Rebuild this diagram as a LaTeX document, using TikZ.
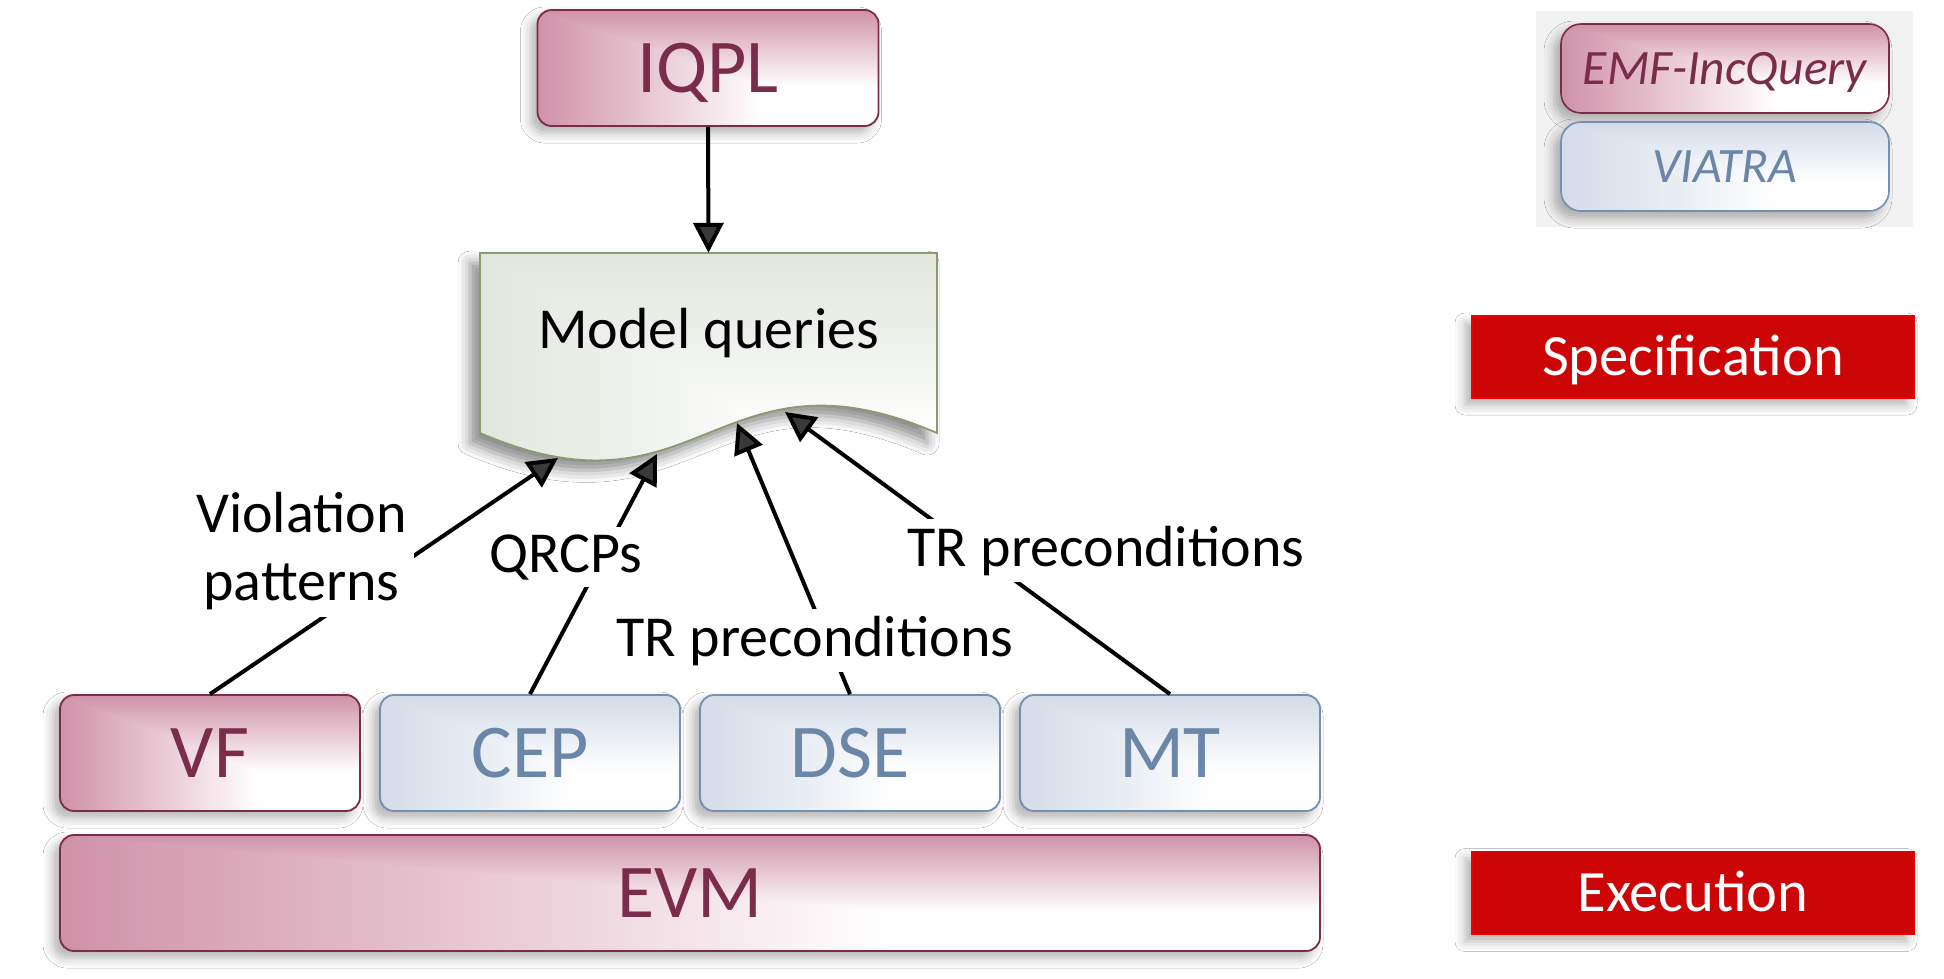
\documentclass[tikz,border=0pt]{standalone}
\usepackage{fontspec}
\setmainfont{Carlito}
\usetikzlibrary{arrows.meta,shadows.blur}
\definecolor{pinkD}{HTML}{CF92A8}
\definecolor{pinkM}{HTML}{E6C3CF}
\definecolor{maroon}{HTML}{7A2C4A}
\definecolor{blueD}{HTML}{D3DCE8}
\definecolor{blueM}{HTML}{E6EBF2}
\definecolor{blueB}{HTML}{7390B0}
\definecolor{blueT}{HTML}{6A86A8}
\definecolor{docD}{HTML}{E2E7DE}
\definecolor{docM}{HTML}{EDF0EA}
\definecolor{docB}{HTML}{8A9B70}
\definecolor{redF}{HTML}{CC0606}
\definecolor{redB}{HTML}{EE0000}
\definecolor{legendbg}{HTML}{F2F2F2}
\newcommand\mkgrad[3]{%
  \pgfdeclarehorizontalshading{#1H}{100bp}{color(0bp)=(#2); color(25bp)=(#2); color(40bp)=(#3); color(58bp)=(white); color(100bp)=(white)}%
  \pgfdeclareverticalshading{#1V}{100bp}{color(0bp)=(white); color(42bp)=(white); color(60bp)=(#3); color(75bp)=(#2); color(100bp)=(#2)}}
\mkgrad{pinkg}{pinkD}{pinkM}
\mkgrad{blueg}{blueD}{blueM}
\mkgrad{docg}{docD}{docM}
\begin{document}
\begin{tikzpicture}[x=1pt,y=-1pt,
  cgrad/.style={path picture={
    \shade[shading=#1H] (path picture bounding box.north west) rectangle (path picture bounding box.south east);
    \shade[shading=#1V] (path picture bounding box.north west) -- (path picture bounding box.north east)
       -- (path picture bounding box.south east) -- cycle;}},
  shadowed/.style={blur shadow={shadow xshift=-7pt,shadow yshift=-7pt,shadow blur radius=10pt,shadow opacity=30}},
  box/.style={shadowed,rounded corners=14pt,line width=1.8pt,minimum height=116pt,
    text height=49pt,text depth=0pt,inner sep=0pt,font=\fontsize{76}{84}\selectfont},
  pinkbox/.style={box,draw=maroon,text=maroon,cgrad=pinkg},
  bluebox/.style={box,draw=blueB,text=blueT,cgrad=blueg},
  legbox/.style={shadowed,rounded corners=20pt,line width=1.6pt,minimum width=328pt,minimum height=89pt,
    text height=31pt,text depth=0pt,inner sep=0pt,font=\fontsize{49.5}{54}\selectfont\itshape},
  redbox/.style={shadowed,fill=redF,draw=redB,line width=1.2pt,minimum width=442pt,text=white,
    text height=37.5pt,text depth=0pt,inner sep=0pt,font=\fontsize{58.5}{64}\selectfont},
  arr/.style={line width=4pt,-{Triangle[length=30pt,width=30pt]}},
  lbl/.style={fill=white,inner sep=7pt,font=\fontsize{58}{68}\selectfont}
]
\useasboundingbox (0,0) rectangle (1944,978);
\fill[white] (0,0) rectangle (1944,978);

% legend
\node[fill=legendbg,minimum width=377pt,minimum height=216pt,inner sep=0pt] (legend) at (1724.5,119) {};
\node[legbox,draw=maroon,text=maroon,cgrad=pinkg] (emf) at (1725,68.5) {EMF-IncQuery};
\node[legbox,draw=blueB,text=blueT,cgrad=blueg] (viatra) at (1725,166.5) {VIATRA};

% phase labels
\node[redbox,minimum height=82pt] (spec) at (1693,357) {Specification};
\node[redbox,minimum height=83pt] (exec) at (1693,893) {Execution};

% IQPL
\node[pinkbox,minimum width=341pt] (iqpl) at (708,68) {IQPL};

% document shape
\path[blur shadow={shadow xshift=-10pt,shadow yshift=-10pt,shadow blur radius=12pt,shadow opacity=45},
  cgrad=docg,draw=docB,line width=1.8pt]
  (480,253) -- (937,253) -- (937,433) .. controls (717,338) and (700,528) .. (480,433) -- cycle;
\node[minimum width=457pt,minimum height=180pt,text height=50pt,text depth=40pt,inner sep=0pt,
  font=\fontsize{58}{64}\selectfont] (doc) at (708.5,343) {Model queries};

% bottom boxes
\node[pinkbox,minimum width=300pt] (vf) at (210,753) {VF};
\node[bluebox,minimum width=300pt] (cep) at (530,753) {CEP};
\node[bluebox,minimum width=300pt] (dse) at (850,753) {DSE};
\node[bluebox,minimum width=300pt] (mt) at (1170,753) {MT};
\node[pinkbox,minimum width=1260pt] (evm) at (690,893) {EVM};

% arrow tips on the wavy edge
\coordinate (tA) at (558,458);
\coordinate (tB) at (657,454);
\coordinate (tC) at (737,423);
\coordinate (tD) at (785,412);

\draw[arr] (iqpl.south) -- (doc.north);
\draw[arr] (vf.north) -- (tA);
\draw[arr] (cep.north) -- (tB);
\draw[arr] (dse.north) -- (tC);
\draw[arr] (mt.north) -- (tD);

% connector labels
\node[lbl,align=center] (lviol) at (301.5,551) {Violation\\patterns};
\node[lbl,anchor=base] (lqrcp) at (566,572) {QRCPs};
\node[lbl,anchor=base] (ltr1) at (815,656) {TR preconditions};
\node[lbl,anchor=base] (ltr2) at (1106,566) {TR preconditions};
\end{tikzpicture}
\end{document}
